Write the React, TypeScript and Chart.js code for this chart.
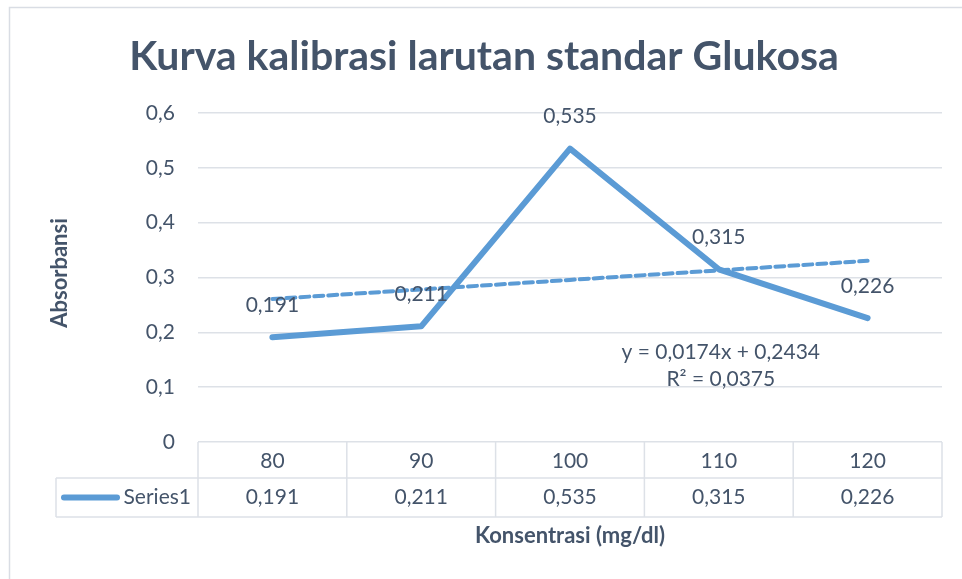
import { useEffect, useRef } from 'react';
import { Chart, registerables } from 'chart.js';
Chart.register(...registerables);

const categories = ['80', '90', '100', '110', '120'];
const series1 = [0.191, 0.211, 0.535, 0.315, 0.226];
const seriesName = 'Series1';
const yTickValues = [0, 0.1, 0.2, 0.3, 0.4, 0.5, 0.6];
const chartTitle = 'Kurva kalibrasi larutan standar Glukosa';
const yTitle = 'Absorbansi';
const xTitle = 'Konsentrasi (mg/dl)';
const trendLabels = ['y = 0,0174x + 0,2434', 'R² = 0,0375'];

const FONT = 'Lato, "Open Sans", sans-serif';
const TEXT = '#44546A';
const GRID = '#DDE1E7';
const BLUE = '#5B9BD5';
const FS = 21;

const fmt = (v: number) => String(Math.round(v * 1000) / 1000).replace('.', ',');

// Linear least-squares trendline over category positions 1..n (as Excel does)
function linearFit(ys: number[]) {
  const n = ys.length;
  const xs = ys.map((_, i) => i + 1);
  const mx = xs.reduce((a, b) => a + b, 0) / n;
  const my = ys.reduce((a, b) => a + b, 0) / n;
  let sxy = 0;
  let sxx = 0;
  for (let i = 0; i < n; i++) {
    sxy += (xs[i] - mx) * (ys[i] - my);
    sxx += (xs[i] - mx) * (xs[i] - mx);
  }
  const slope = sxy / sxx;
  const intercept = my - slope * mx;
  return xs.map((x) => intercept + slope * x);
}

const trend = linearFit(series1);

const decor = {
  id: 'decor',
  afterDraw(chart: any) {
    const { ctx, chartArea, scales } = chart;
    const x = scales.x;
    ctx.save();

    // outer frame
    ctx.strokeStyle = '#D9DDE4';
    ctx.lineWidth = 1.5;
    ctx.beginPath();
    ctx.moveTo(9.5, 579);
    ctx.lineTo(9.5, 7.5);
    ctx.lineTo(962, 7.5);
    ctx.stroke();

    // title
    ctx.fillStyle = TEXT;
    ctx.textAlign = 'center';
    ctx.textBaseline = 'middle';
    ctx.font = `bold 41px ${FONT}`;
    ctx.fillText(chartTitle, 484, 57);

    // axis titles
    ctx.font = `bold 22px ${FONT}`;
    ctx.fillText(xTitle, (chartArea.left + chartArea.right) / 2, 536);
    ctx.save();
    ctx.translate(60, 273);
    ctx.rotate(-Math.PI / 2);
    ctx.fillText(yTitle, 0, 0);
    ctx.restore();

    // data labels
    ctx.font = `${FS}px ${FONT}`;
    ctx.textBaseline = 'middle';
    const meta = chart.getDatasetMeta(1);
    meta.data.forEach((pt: any, i: number) => {
      ctx.fillText(fmt(series1[i]), pt.x, pt.y - 32);
    });

    // trendline equation
    const ex = x.getPixelForValue(3) + 2;
    ctx.fillText(trendLabels[0], ex, 352);
    ctx.fillText(trendLabels[1], ex, 379);

    // data table
    const rowTop = x.bottom;
    const rowBottom = rowTop + 39;
    const rowMid = (rowTop + rowBottom) / 2;
    const tableLeft = 56;
    ctx.strokeStyle = GRID;
    ctx.lineWidth = 1.5;
    ctx.beginPath();
    ctx.moveTo(tableLeft, rowTop);
    ctx.lineTo(chartArea.right, rowTop);
    ctx.moveTo(tableLeft, rowBottom);
    ctx.lineTo(chartArea.right, rowBottom);
    ctx.moveTo(tableLeft, rowTop);
    ctx.lineTo(tableLeft, rowBottom);
    const n = categories.length;
    for (let i = 0; i <= n; i++) {
      let bx;
      if (i === 0) bx = chartArea.left;
      else if (i === n) bx = chartArea.right;
      else bx = (x.getPixelForValue(i - 1) + x.getPixelForValue(i)) / 2;
      ctx.moveTo(bx, chartArea.bottom);
      ctx.lineTo(bx, rowBottom);
    }
    ctx.stroke();

    // legend key
    ctx.strokeStyle = BLUE;
    ctx.lineWidth = 6;
    ctx.lineCap = 'round';
    ctx.beginPath();
    ctx.moveTo(64, rowMid);
    ctx.lineTo(117, rowMid);
    ctx.stroke();
    ctx.fillStyle = TEXT;
    ctx.textAlign = 'right';
    ctx.fillText(seriesName, 191, rowMid);

    ctx.textAlign = 'center';
    series1.forEach((v, i) => {
      ctx.fillText(fmt(v), x.getPixelForValue(i), rowMid);
    });

    ctx.restore();
  },
};

export default function App() {
  const ref = useRef<HTMLCanvasElement | null>(null);
  useEffect(() => {
    if (!ref.current) return;
    const chart = new Chart(ref.current, {
      type: 'line',
      data: {
        labels: categories,
        datasets: [
          {
            label: 'Linear (Series1)',
            data: trend,
            borderColor: BLUE,
            borderWidth: 4,
            borderDash: [9, 5],
            borderCapStyle: 'round',
            pointRadius: 0,
            fill: false,
            order: 0,
          },
          {
            label: seriesName,
            data: series1,
            borderColor: BLUE,
            borderWidth: 6,
            borderCapStyle: 'round',
            borderJoinStyle: 'round',
            pointRadius: 0,
            tension: 0,
            fill: false,
            order: 1,
          },
        ],
      },
      options: {
        responsive: false,
        animation: false,
        devicePixelRatio: 1,
        layout: { padding: { left: 0, top: 113, right: 20, bottom: 101 } },
        plugins: {
          legend: { display: false },
          title: { display: false },
          tooltip: { enabled: false },
        },
        scales: {
          x: {
            offset: true,
            grid: { display: false, drawTicks: false },
            border: { display: false },
            ticks: {
              color: TEXT,
              font: { family: FONT, size: FS },
              padding: 7,
              maxRotation: 0,
              autoSkip: false,
            },
            afterFit: (s: any) => {
              s.height = 36;
            },
          },
          y: {
            min: 0,
            max: 0.6,
            grid: { color: GRID, lineWidth: 1.5, drawTicks: false },
            border: { display: false },
            afterBuildTicks: (s: any) => {
              s.ticks = yTickValues.map((v) => ({ value: v }));
            },
            ticks: {
              color: TEXT,
              font: { family: FONT, size: FS },
              padding: 23,
              callback: (v: any) => fmt(Number(v)),
            },
            afterFit: (s: any) => {
              s.width = 198;
            },
          },
        },
      },
      plugins: [decor],
    });
    return () => chart.destroy();
  }, []);
  return (
    <div style={{ position: 'fixed', left: 0, top: 0, width: 962, height: 579, background: '#fff' }}>
      <canvas ref={ref} width={962} height={579} style={{ width: 962, height: 579, display: 'block' }} />
    </div>
  );
}
